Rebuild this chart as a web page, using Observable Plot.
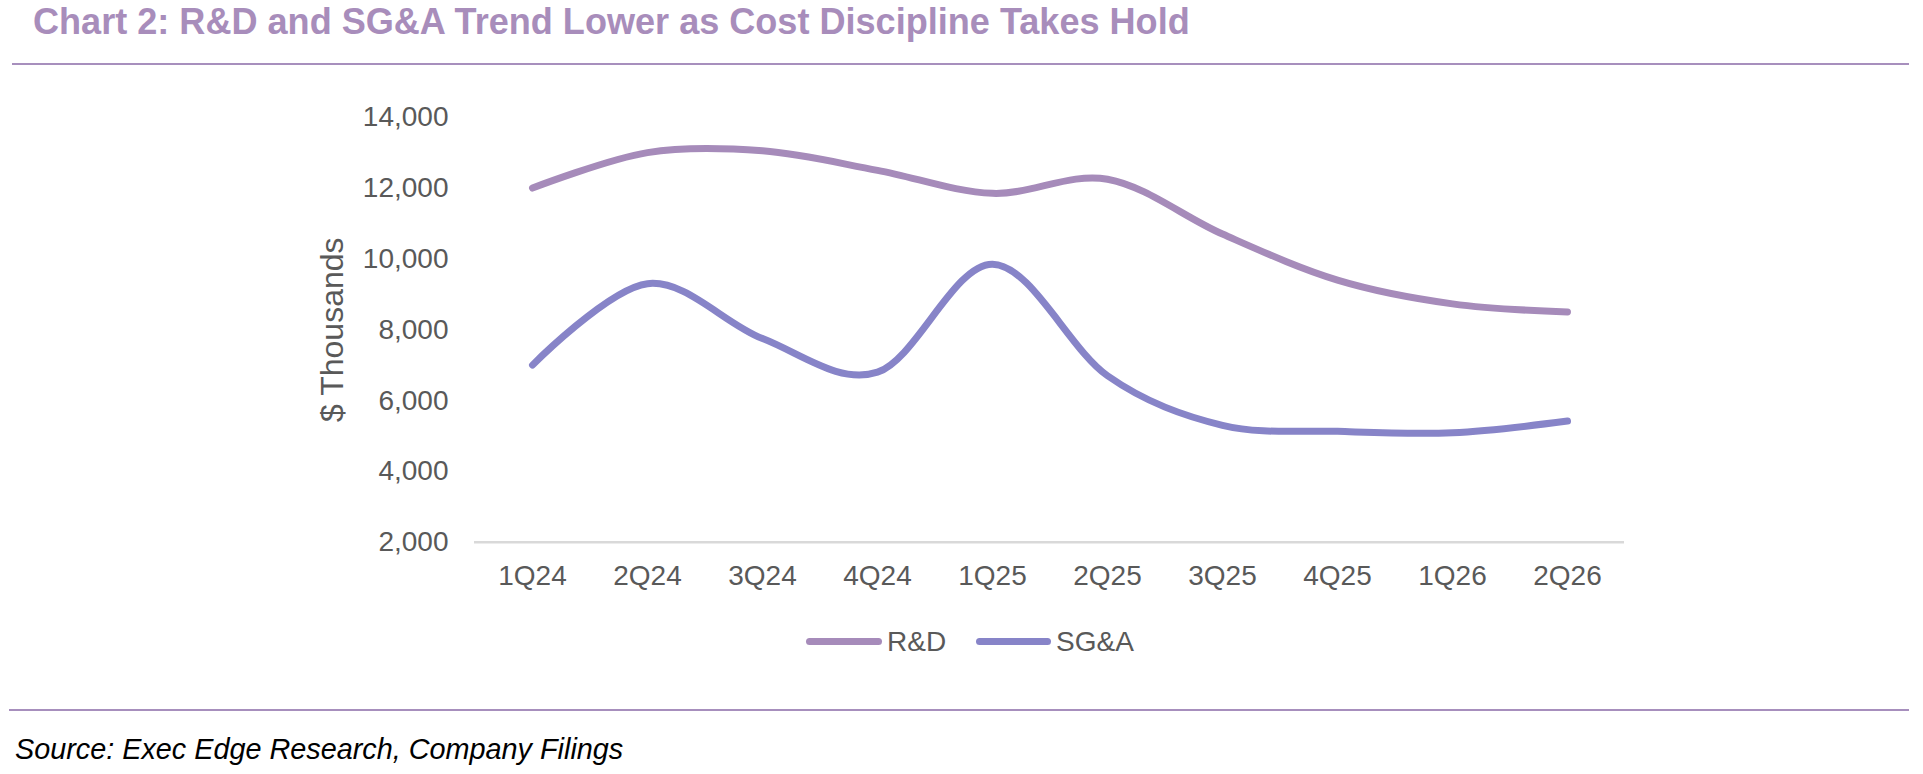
<!DOCTYPE html>
<html>
<head>
<meta charset="utf-8">
<script src="https://cdn.jsdelivr.net/npm/d3@7"></script>
<script src="https://cdn.jsdelivr.net/npm/@observablehq/plot@0.6"></script>
<style>
  body { margin: 0; background: #fff; }
  #page { position: relative; width: 1923px; height: 774px; overflow: hidden; font-family: "Liberation Sans", Arial, sans-serif; }
  #title { position: absolute; left: 33px; top: 4px; font-size: 36.1px; font-weight: bold; color: #a88dbb; white-space: nowrap; line-height: 1; }
  .rule { position: absolute; height: 2px; background: #a78fbd; }
  #chart { position: absolute; left: 0; top: 0; }
  #chart g[aria-label="y-axis label"] { font-size: 32px; }
  .leg { position: absolute; top: 625px; font-size: 28px; color: #595959; line-height: 34px; white-space: nowrap; }
  .sw { position: absolute; top: 638px; height: 7px; border-radius: 4px; }
  #source { position: absolute; left: 15px; top: 734.7px; font-size: 28.8px; font-style: italic; color: #000; white-space: nowrap; line-height: 1; }
</style>
</head>
<body>
<div id="page">
  <div id="title">Chart 2: R&amp;D and SG&amp;A Trend Lower as Cost Discipline Takes Hold</div>
  <div class="rule" style="left:12px; width:1897px; top:63px;"></div>
  <div id="chart"></div>
  <div class="sw" style="left:806px; width:76px; background:#a68bba;"></div>
  <div class="leg" style="left:887px;">R&amp;D</div>
  <div class="sw" style="left:976px; width:75px; background:#8784c8;"></div>
  <div class="leg" style="left:1056px;">SG&amp;A</div>
  <div class="rule" style="left:9px; width:1900px; top:709px;"></div>
  <div id="source">Source: Exec Edge Research, Company Filings</div>
</div>
<script>
const quarters = ["1Q24", "2Q24", "3Q24", "4Q24", "1Q25", "2Q25", "3Q25", "4Q25", "1Q26", "2Q26"];
const rdValues = [12000, 13000, 13050, 12500, 11850, 12250, 10700, 9400, 8730, 8500];
const sgaValues = [7000, 9300, 7750, 6800, 9850, 6700, 5300, 5130, 5090, 5420];
const yTicks = [2000, 4000, 6000, 8000, 10000, 12000, 14000];

const rd = quarters.map((q, i) => ({quarter: q, value: rdValues[i]}));
const sga = quarters.map((q, i) => ({quarter: q, value: sgaValues[i]}));

const chart = Plot.plot({
  width: 1923,
  height: 600,
  marginLeft: 474,
  marginRight: 299,
  marginTop: 116.7,
  marginBottom: 58.3,
  style: {fontFamily: "'Liberation Sans', Arial, sans-serif", fontSize: "28px", color: "#595959", background: "transparent", overflow: "visible"},
  x: {type: "point", domain: quarters, padding: 0.5, label: null, tickSize: 0, tickPadding: 23},
  y: {domain: [2000, 14000], ticks: yTicks, tickFormat: d3.format(","), tickSize: 0, tickPadding: 26,
      label: "$ Thousands", labelAnchor: "center", labelArrow: "none", labelOffset: 154},
  marks: [
    Plot.ruleY([2000], {stroke: "#d9d9d9", strokeWidth: 2.5}),
    Plot.line(rd, {x: "quarter", y: "value", stroke: "#a68bba", strokeWidth: 7, curve: "cardinal", strokeLinecap: "round", strokeLinejoin: "round"}),
    Plot.line(sga, {x: "quarter", y: "value", stroke: "#8784c8", strokeWidth: 7, curve: "cardinal", strokeLinecap: "round", strokeLinejoin: "round"})
  ]
});
document.getElementById("chart").appendChild(chart);
</script>
</body>
</html>
